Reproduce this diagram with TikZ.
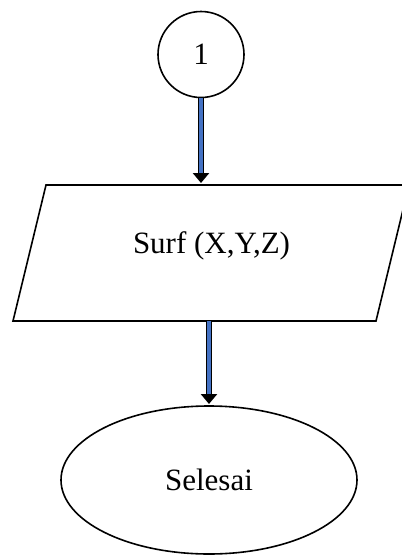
\documentclass[tikz,border=0pt]{standalone}
\usepackage{fontspec}
\setmainfont{Liberation Serif}
\usetikzlibrary{shapes.geometric,arrows.meta}
\definecolor{flowblue}{HTML}{4472C4}
\begin{document}
\begin{tikzpicture}[x=1pt,y=1pt,
  shapeline/.style={draw=black,line width=1.6pt},
  lbl/.style={font=\fontsize{31}{36}\selectfont},
  arrowout/.style={draw=black,line width=6.6pt,-{Triangle[width=16pt,length=10pt]}},
  arrowin/.style={draw=flowblue,line width=3.4pt,shorten >=10.5pt}]
\useasboundingbox (0,0) rectangle (402,-558);
\clip (0,0) rectangle (402,-558);
\fill[white] (0,0) rectangle (402,-558);
% start connector circle
\node[circle,shapeline,minimum size=86pt,inner sep=0pt,lbl] (c) at (201,-54.5) {1};
% parallelogram (input/output)
\coordinate (pTL) at (46,-185);
\coordinate (pTR) at (409,-185);
\coordinate (pBR) at (376,-321);
\coordinate (pBL) at (13,-321);
\draw[shapeline,line join=miter] (pTL) -- (pTR) -- (pBR) -- (pBL) -- cycle;
\node[lbl] (p) at (211.5,-246) {Surf (X,Y,Z)};
% terminator ellipse
\node[ellipse,shapeline,minimum width=296pt,minimum height=148pt,inner sep=0pt,lbl] (e) at (209,-480) {Selesai};
% connectors
\coordinate (pin) at (201,-183);
\coordinate (pout) at (209,-321);
\coordinate (ein) at (209,-404);
\draw[arrowout] (c.south) -- (pin);
\draw[arrowin] (c.south) -- (pin);
\draw[arrowout] (pout) -- (ein);
\draw[arrowin] (pout) -- (ein);
\end{tikzpicture}
\end{document}
